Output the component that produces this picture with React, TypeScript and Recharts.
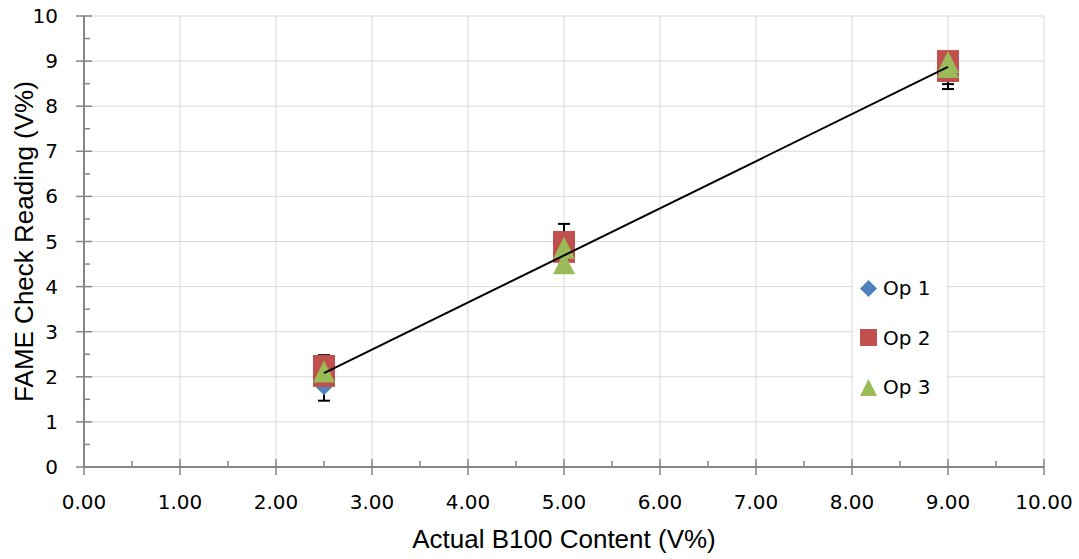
import React from 'react';
import { ScatterChart, Scatter, XAxis, YAxis, CartesianGrid } from 'recharts';

// ---- data ----
const X_TICKS = [0, 0.5, 1, 1.5, 2, 2.5, 3, 3.5, 4, 4.5, 5, 5.5, 6, 6.5, 7, 7.5, 8, 8.5, 9, 9.5, 10];
const Y_TICKS = [0, 0.5, 1, 1.5, 2, 2.5, 3, 3.5, 4, 4.5, 5, 5.5, 6, 6.5, 7, 7.5, 8, 8.5, 9, 9.5, 10];
const GRID_VALUES = [0, 1, 2, 3, 4, 5, 6, 7, 8, 9, 10];

const OP1_X = [2.5, 5, 9];
const OP1_Y = [1.78, 4.85, 8.85];
const OP1_ERR_LOW = [0.31, 0.4, 0.47];
const OP1_ERR_HIGH = [0.7, 0.54, 0.35];

const OP2_X = [2.5, 2.5, 5, 5, 9, 9];
const OP2_Y = [2.02, 2.24, 4.77, 4.99, 8.78, 9.0];
const OP2_ERR_LOW = [0, 0, 0, 0, 0.29, 0];
const OP2_ERR_HIGH = [0, 0, 0, 0, 0, 0];

const OP3_X = [2.5, 5, 5, 9, 9];
const OP3_Y = [2.12, 4.86, 4.52, 8.98, 8.87];

const TREND_X = [2.5, 9];
const TREND_Y = [2.08, 8.87];

const SERIES_NAMES = ['Op 1', 'Op 2', 'Op 3'];
const COLORS = ['#4F81BD', '#C0504D', '#9BBB59'];

const op1Data = OP1_X.map((x, i) => ({ x, y: OP1_Y[i] }));
const op2Data = OP2_X.map((x, i) => ({ x, y: OP2_Y[i] }));
const op3Data = OP3_X.map((x, i) => ({ x, y: OP3_Y[i] }));
const trendData = TREND_X.map((x, i) => ({ x, y: TREND_Y[i] }));

// error bars (drawn beneath the markers): each is a pair of end points
const errorBars: { x: number; y: number }[][] = [];
OP1_X.forEach((x, i) => {
  errorBars.push([
    { x, y: OP1_Y[i] - OP1_ERR_LOW[i] },
    { x, y: OP1_Y[i] + OP1_ERR_HIGH[i] },
  ]);
});
OP2_X.forEach((x, i) => {
  if (OP2_ERR_LOW[i] > 0 || OP2_ERR_HIGH[i] > 0) {
    errorBars.push([
      { x, y: OP2_Y[i] - OP2_ERR_LOW[i] },
      { x, y: OP2_Y[i] + OP2_ERR_HIGH[i] },
    ]);
  }
});

const TICK_FONT = 'DejaVu Sans';
const TITLE_FONT = 'Liberation Sans, Arial, sans-serif';
const AXIS_COLOR = '#868686';

// ---- marker shapes ----
const Diamond = (props: any) => {
  const { cx, cy } = props;
  const r = 8.5;
  return <polygon points={`${cx},${cy - r} ${cx + r},${cy} ${cx},${cy + r} ${cx - r},${cy}`} fill={COLORS[0]} />;
};
const Square = (props: any) => {
  const { cx, cy } = props;
  const s = 22;
  return <rect x={cx - s / 2} y={cy - s / 2} width={s} height={s} fill={COLORS[1]} />;
};
const Triangle = (props: any) => {
  const { cx, cy } = props;
  const w = 22;
  const h = 22;
  return <polygon points={`${cx},${cy - h / 2} ${cx + w / 2},${cy + h / 2} ${cx - w / 2},${cy + h / 2}`} fill={COLORS[2]} />;
};
const Cap = (props: any) => {
  const { cx, cy } = props;
  return <line x1={cx - 6} x2={cx + 6} y1={cy} y2={cy} stroke="#000" strokeWidth={2} />;
};
const NoShape = () => <g />;

// ---- ticks ----
const XTick = (props: any) => {
  const { x, y, payload } = props;
  const v = payload.value as number;
  const major = Number.isInteger(v);
  return (
    <g>
      {major ? (
        <line x1={x} x2={x} y1={y - 8} y2={y + 8} stroke={AXIS_COLOR} strokeWidth={1.5} />
      ) : (
        <line x1={x} x2={x} y1={y - 6} y2={y} stroke={AXIS_COLOR} strokeWidth={1.5} />
      )}
      {major && (
        <text x={x} y={y + 42} textAnchor="middle" fontFamily={TICK_FONT} fontSize={20} fill="#000">
          {v.toFixed(2)}
        </text>
      )}
    </g>
  );
};

const YTick = (props: any) => {
  const { x, y, payload } = props;
  const v = payload.value as number;
  const major = Number.isInteger(v);
  return (
    <g>
      {major ? (
        <line x1={x - 8} x2={x + 8} y1={y} y2={y} stroke={AXIS_COLOR} strokeWidth={1.5} />
      ) : (
        <line x1={x} x2={x + 6} y1={y} y2={y} stroke={AXIS_COLOR} strokeWidth={1.5} />
      )}
      {major && (
        <text x={x - 26} y={y + 7} textAnchor="end" fontFamily={TICK_FONT} fontSize={20} fill="#000">
          {String(v)}
        </text>
      )}
    </g>
  );
};

const LegendMarker = ({ i }: { i: number }) => {
  const c = 8.5;
  return (
    <svg width={17} height={17} style={{ display: 'block' }}>
      {i === 0 && <polygon points={`${c},0 17,${c} ${c},17 0,${c}`} fill={COLORS[0]} />}
      {i === 1 && <rect x={0} y={0} width={17} height={17} fill={COLORS[1]} />}
      {i === 2 && <polygon points={`${c},0 17,17 0,17`} fill={COLORS[2]} />}
    </svg>
  );
};

export default function App() {
  return (
    <div style={{ position: 'absolute', left: 0, top: 0, width: 1079, height: 559, background: '#fff' }}>
      <ScatterChart width={1079} height={559} margin={{ top: 16, right: 35, left: 24, bottom: 32 }}>
        <CartesianGrid
          stroke="#D9D9D9"
          strokeWidth={1}
          horizontalValues={GRID_VALUES}
          verticalValues={GRID_VALUES}
        />
        <XAxis
          type="number"
          dataKey="x"
          domain={[0, 10]}
          ticks={X_TICKS}
          interval={0}
          height={60}
          tickSize={0}
          tickMargin={0}
          tickLine={false}
          axisLine={{ stroke: AXIS_COLOR, strokeWidth: 2 }}
          tick={<XTick />}
          allowDataOverflow
          label={{
            content: () => (
              <text x={564} y={548} textAnchor="middle" fontFamily={TITLE_FONT} fontSize={26} fill="#000">
                Actual B100 Content (V%)
              </text>
            ),
          }}
        />
        <YAxis
          type="number"
          dataKey="y"
          domain={[0, 10]}
          ticks={Y_TICKS}
          interval={0}
          width={60}
          tickSize={0}
          tickMargin={0}
          tickLine={false}
          axisLine={{ stroke: AXIS_COLOR, strokeWidth: 2 }}
          tick={<YTick />}
          allowDataOverflow
          label={{
            content: () => (
              <text
                x={24}
                y={241.5}
                transform="rotate(-90 24 241.5)"
                textAnchor="middle"
                dominantBaseline="central"
                fontFamily={TITLE_FONT}
                fontSize={26}
                fill="#000"
              >
                FAME Check Reading (V%)
              </text>
            ),
          }}
        />
        {errorBars.map((d, i) => (
          <Scatter
            key={`err-${i}`}
            name={`err-${i}`}
            data={d}
            line={{ stroke: '#000', strokeWidth: 2 }}
            shape={<Cap />}
            isAnimationActive={false}
            legendType="none"
          />
        ))}
        <Scatter name={SERIES_NAMES[0]} data={op1Data} fill={COLORS[0]} shape={<Diamond />} isAnimationActive={false} />
        <Scatter name={SERIES_NAMES[1]} data={op2Data} fill={COLORS[1]} shape={<Square />} isAnimationActive={false} />
        <Scatter name={SERIES_NAMES[2]} data={op3Data} fill={COLORS[2]} shape={<Triangle />} isAnimationActive={false} />
        <Scatter
          name="Trend"
          data={trendData}
          line={{ stroke: '#000', strokeWidth: 2 }}
          shape={<NoShape />}
          isAnimationActive={false}
          legendType="none"
        />
      </ScatterChart>
      <div
        style={{
          position: 'absolute',
          left: 853,
          top: 263,
          width: 94,
          height: 147,
          background: '#fff',
          fontFamily: TICK_FONT,
          fontSize: 20,
          color: '#000',
        }}
      >
        {SERIES_NAMES.map((n, i) => (
          <div
            key={n}
            style={{
              position: 'absolute',
              left: 7,
              top: 15 + i * 49.5,
              display: 'flex',
              alignItems: 'center',
              height: 20,
            }}
          >
            <LegendMarker i={i} />
            <span style={{ marginLeft: 6, lineHeight: '20px', whiteSpace: 'nowrap' }}>{n}</span>
          </div>
        ))}
      </div>
    </div>
  );
}
